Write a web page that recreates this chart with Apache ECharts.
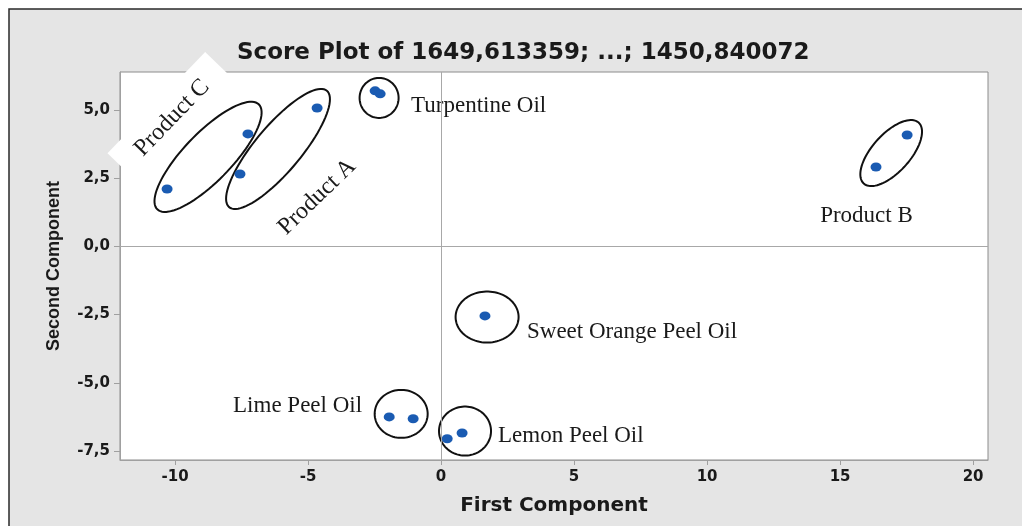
<!DOCTYPE html>
<html>
<head>
<meta charset="utf-8">
<style>
  html, body { margin: 0; padding: 0; background: #fff; }
  #chart-container { width: 1022px; height: 526px; }
</style>
<script src="https://cdn.jsdelivr.net/npm/echarts@6/dist/echarts.min.js"></script>
</head>
<body>
<div id="chart-container"></div>
<script>
// scores, two points per sample (except sweet orange)
var firstComp = [-10.30, -7.26, -7.56, -4.66, -2.48, -2.29, 16.35, 17.52, 1.65, -1.95, -1.05, 0.23, 0.79];
var secondComp = [2.10, 4.12, 2.65, 5.07, 5.70, 5.59, 2.91, 4.08, -2.55, -6.25, -6.32, -7.05, -6.84];
var xTicks = [-10, -5, 0, 5, 10, 15, 20];
var yTicks = [-7.5, -5, -2.5, 0, 2.5, 5];

// hand-drawn annotations
var groupNames = ["Product C", "Product A", "Turpentine Oil", "Product B", "Sweet Orange Peel Oil", "Lime Peel Oil", "Lemon Peel Oil"];
var ellipseCenters = [[-8.76, 3.28], [-6.13, 3.57], [-2.33, 5.44], [16.92, 3.42], [1.73, -2.59], [-1.50, -6.14], [0.90, -6.77]];
var labelAnchors = [[-10.11, 4.71], [-4.66, 1.81], [-1.13, 5.13], [14.25, 1.10], [3.23, -3.15], [-7.82, -5.85], [2.14, -6.96]];

// ellipse radii (px) and tilt (deg)
var ellipseShape = [[73, 24, 46], [76, 23, 50], [19.5, 20, 0], [41, 19, 48], [31.5, 25.5, 0], [26.5, 24, 0], [26, 24.5, 0]];
var labelRotate = [46, 44, 0, 0, 0, 0, 0];

var points = firstComp.map(function (x, i) { return [x, secondComp[i]]; });

var dom = document.getElementById("chart-container");
var myChart = echarts.init(dom, null, { renderer: "canvas" });

function ellipseItem(params, api) {
  var c = api.coord([api.value(0), api.value(1)]);
  var s = ellipseShape[params.dataIndex];
  var th = s[2] * Math.PI / 180;
  var pts = [];
  for (var i = 0; i < 90; i++) {
    var t = i / 90 * 2 * Math.PI;
    pts.push([
      c[0] + s[0] * Math.cos(th) * Math.cos(t) - s[1] * Math.sin(th) * Math.sin(t),
      c[1] - (s[0] * Math.sin(th) * Math.cos(t) + s[1] * Math.cos(th) * Math.sin(t))
    ]);
  }
  return {
    type: "polygon",
    shape: { points: pts },
    style: { fill: "none", stroke: "#111", lineWidth: 2 }
  };
}

function labelItem(params, api) {
  var i = params.dataIndex;
  var c = api.coord([api.value(0), api.value(1)]);
  var rot = labelRotate[i];
  var style = {
    text: groupNames[i],
    x: 0,
    y: 0,
    fill: "#1a1a1a",
    font: (rot ? 24 : 23) + "px 'Liberation Serif', 'Times New Roman', serif",
    align: rot ? "center" : "left",
    verticalAlign: "middle"
  };
  if (rot) {
    style.backgroundColor = "#fff";
    style.padding = [10, 22];
  }
  return {
    type: "text",
    x: c[0],
    y: c[1],
    rotation: rot * Math.PI / 180,
    style: style
  };
}

var option = {
  backgroundColor: "#fff",
  animation: false,
  graphic: [
    {
      type: "rect",
      z: -10,
      shape: { x: 9, y: 9, width: 1040, height: 540 },
      style: { fill: "#e5e5e5", stroke: "#2a2a2a", lineWidth: 1.5 }
    }
  ],
  title: {
    text: "Score Plot of 1649,613359; ...; 1450,840072",
    left: 232,
    top: 37,
    textStyle: {
      fontFamily: "DejaVu Sans",
      fontWeight: "bold",
      fontSize: 23,
      color: "#1a1a1a"
    }
  },
  grid: {
    left: 120,
    right: 34,
    top: 72,
    bottom: 66,
    show: true,
    backgroundColor: "#fff",
    borderColor: "#8c8c8c",
    borderWidth: 1
  },
  xAxis: {
    type: "value",
    min: -12.07,
    max: 20.56,
    name: "First Component",
    nameLocation: "middle",
    nameGap: 36,
    nameTextStyle: { fontFamily: "DejaVu Sans", fontWeight: "bold", fontSize: 20, color: "#1a1a1a" },
    axisLine: { show: true, onZero: false, lineStyle: { color: "#a0a0a0" } },
    axisTick: { show: true, length: 5, customValues: xTicks, lineStyle: { color: "#a0a0a0" } },
    axisLabel: {
      customValues: xTicks,
      margin: 10,
      fontFamily: "DejaVu Sans",
      fontWeight: "bold",
      fontSize: 15,
      color: "#1a1a1a"
    },
    splitLine: { show: false }
  },
  yAxis: {
    type: "value",
    min: -7.83,
    max: 6.39,
    name: "Second Component",
    nameLocation: "middle",
    nameGap: 57,
    nameTextStyle: { fontFamily: "Liberation Sans", fontWeight: "bold", fontSize: 18, color: "#1a1a1a" },
    axisLine: { show: true, onZero: false, lineStyle: { color: "#a0a0a0" } },
    axisTick: { show: true, length: 6, customValues: yTicks, lineStyle: { color: "#a0a0a0" } },
    axisLabel: {
      customValues: yTicks,
      margin: 10,
      fontFamily: "DejaVu Sans",
      fontWeight: "bold",
      fontSize: 15,
      color: "#1a1a1a",
      formatter: function (v) { return v.toFixed(1).replace(".", ","); }
    },
    splitLine: { show: false }
  },
  series: [
    {
      name: "reference",
      type: "scatter",
      z: 1,
      data: [],
      markLine: {
        silent: true,
        symbol: "none",
        label: { show: false },
        lineStyle: { color: "#a8a8a8", type: "solid", width: 1 },
        data: [{ xAxis: 0 }, { yAxis: 0 }]
      }
    },
    {
      name: "labels",
      type: "custom",
      z: 2,
      clip: false,
      silent: true,
      data: labelAnchors,
      renderItem: labelItem
    },
    {
      name: "groups",
      type: "custom",
      z: 3,
      clip: false,
      silent: true,
      data: ellipseCenters,
      renderItem: ellipseItem
    },
    {
      name: "scores",
      type: "scatter",
      z: 4,
      symbol: "circle",
      symbolSize: [11, 9],
      itemStyle: { color: "#1a5bb2", opacity: 1 },
      data: points
    }
  ]
};

if (option && typeof option === "object") {
  myChart.setOption(option);
}
window.addEventListener("resize", myChart.resize);
</script>
</body>
</html>
